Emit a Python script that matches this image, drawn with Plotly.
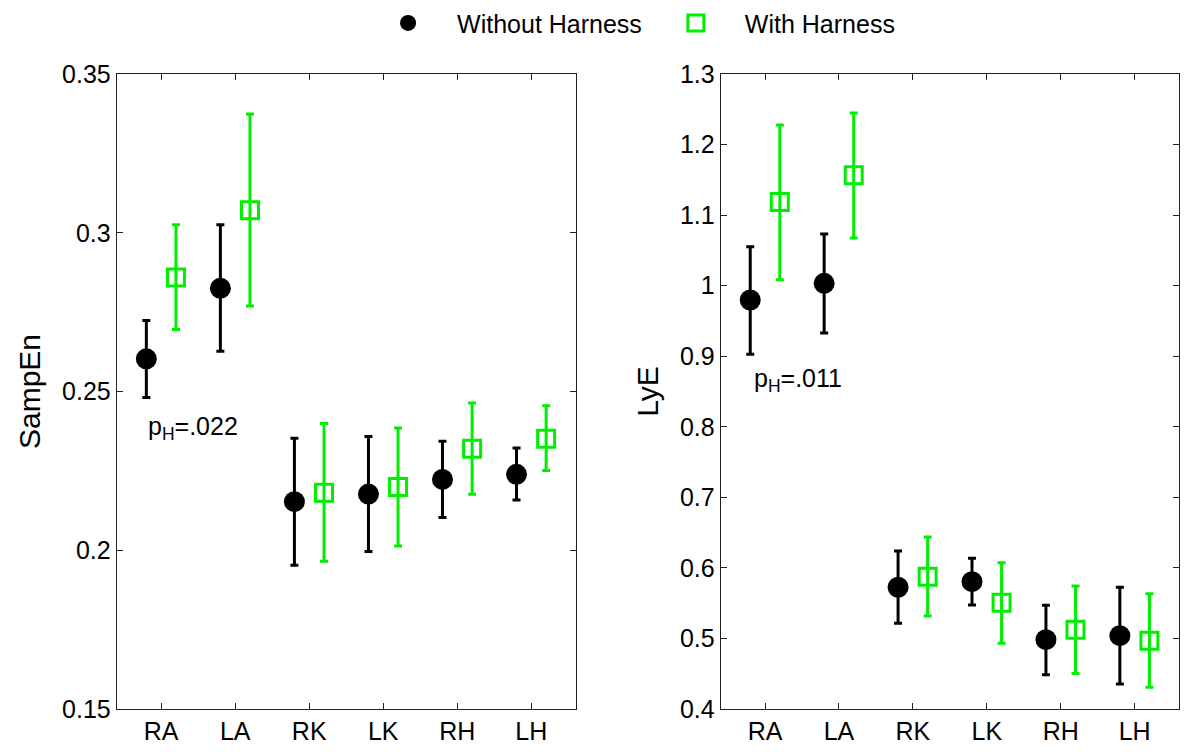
import plotly.graph_objects as go
from plotly.subplots import make_subplots

categories = ["RA", "LA", "RK", "LK", "RH", "LH"]

# SampEn (left panel)
sampen_without = [0.2603, 0.2825, 0.2153, 0.2177, 0.2223, 0.2239]
sampen_without_hi = [0.2724, 0.3025, 0.2353, 0.2358, 0.2343, 0.2322]
sampen_without_lo = [0.2481, 0.2627, 0.1953, 0.1996, 0.2103, 0.2158]
sampen_with = [0.2859, 0.3071, 0.2181, 0.2199, 0.2320, 0.2351]
sampen_with_hi = [0.3025, 0.3374, 0.2399, 0.2385, 0.2464, 0.2455]
sampen_with_lo = [0.2695, 0.2769, 0.1965, 0.2013, 0.2176, 0.2251]

# LyE (right panel)
lye_without = [0.9797, 1.0033, 0.5725, 0.5805, 0.4983, 0.5039]
lye_without_hi = [1.0553, 1.0732, 0.6240, 0.6136, 0.5469, 0.5725]
lye_without_lo = [0.9027, 0.9329, 0.5215, 0.5474, 0.4487, 0.4354]
lye_with = [1.1186, 1.1564, 0.5876, 0.5507, 0.5124, 0.4968]
lye_with_hi = [1.2277, 1.2447, 0.6438, 0.6074, 0.5743, 0.5634]
lye_with_lo = [1.0085, 1.0676, 0.5318, 0.4931, 0.4502, 0.4308]

sampen_ticks = [0.15, 0.2, 0.25, 0.3, 0.35]
sampen_ticktext = ["0.15", "0.2", "0.25", "0.3", "0.35"]
lye_ticks = [0.4, 0.5, 0.6, 0.7, 0.8, 0.9, 1.0, 1.1, 1.2, 1.3]
lye_ticktext = ["0.4", "0.5", "0.6", "0.7", "0.8", "0.9", "1", "1.1", "1.2", "1.3"]

BLACK = "#000000"
GREEN = "#00ee00"
FONT = "Liberation Sans, Arial, sans-serif"
OFFSET = 0.2

idx = list(range(1, len(categories) + 1))
x_without = [i - OFFSET for i in idx]
x_with = [i + OFFSET for i in idx]

fig = make_subplots(rows=1, cols=2)


def err(mean, hi, lo):
    return ([h - m for h, m in zip(hi, mean)], [m - l for m, l in zip(mean, lo)])


def add_series(col, xs, mean, hi, lo, name, color, symbol, show):
    up, down = err(mean, hi, lo)
    marker = dict(color=color, size=21, symbol=symbol)
    if symbol == "square-open":
        marker = dict(color=color, size=17, symbol=symbol, line=dict(width=3, color=color))
    fig.add_trace(
        go.Scatter(
            x=xs, y=mean, mode="markers", name=name, showlegend=show,
            marker=marker,
            error_y=dict(type="data", symmetric=False, array=up, arrayminus=down,
                         color=color, thickness=3, width=4),
        ),
        row=1, col=col,
    )


add_series(1, x_without, sampen_without, sampen_without_hi, sampen_without_lo,
           "Without Harness", BLACK, "circle", True)
add_series(1, x_with, sampen_with, sampen_with_hi, sampen_with_lo,
           "With Harness", GREEN, "square-open", True)
add_series(2, x_without, lye_without, lye_without_hi, lye_without_lo,
           "Without Harness", BLACK, "circle", False)
add_series(2, x_with, lye_with, lye_with_hi, lye_with_lo,
           "With Harness", GREEN, "square-open", False)

axis_common = dict(showline=True, linecolor="#222222", linewidth=1, mirror="ticks",
                   ticks="inside", ticklen=6, tickcolor="#222222", showgrid=False,
                   zeroline=False, automargin=False,
                   tickfont=dict(family=FONT, size=25, color="black"))

fig.update_xaxes(range=[0.4, 6.6], tickvals=idx, ticktext=categories, **axis_common)
fig.update_yaxes(**axis_common)
fig.update_xaxes(domain=[0.0507, 0.4609], row=1, col=1)
fig.update_xaxes(domain=[0.5904, 1.0], row=1, col=2)
fig.update_yaxes(range=[0.15, 0.35], tickvals=sampen_ticks, ticktext=sampen_ticktext,
                 title=dict(text="SampEn", font=dict(family=FONT, size=30, color="black"), standoff=12),
                 row=1, col=1)
fig.update_yaxes(range=[0.4, 1.3], tickvals=lye_ticks, ticktext=lye_ticktext,
                 title=dict(text="LyE", font=dict(family=FONT, size=30, color="black"), standoff=12),
                 row=1, col=2)

fig.add_annotation(x=0.8, y=0.2386, xref="x", yref="y", text="p<sub>H</sub>=.022",
                   showarrow=False, xanchor="left", yanchor="middle",
                   font=dict(family=FONT, size=25, color="black"))
fig.add_annotation(x=0.82, y=0.866, xref="x2", yref="y2", text="p<sub>H</sub>=.011",
                   showarrow=False, xanchor="left", yanchor="middle",
                   font=dict(family=FONT, size=25, color="black"))

# the page body has an 8 px margin, so the figure is 8 px smaller and margins shifted
fig.update_layout(
    width=1192, height=744,
    margin=dict(l=52, r=21, t=66, b=43, autoexpand=False),
    paper_bgcolor="white", plot_bgcolor="white",
    font=dict(family=FONT, size=25, color="black"),
    legend=dict(orientation="h", x=0.509, y=1.08, xanchor="center", yanchor="middle",
                font=dict(family=FONT, size=25, color="black"), itemwidth=88,
                bgcolor="rgba(0,0,0,0)"),
)

fig.write_html("out.html")
